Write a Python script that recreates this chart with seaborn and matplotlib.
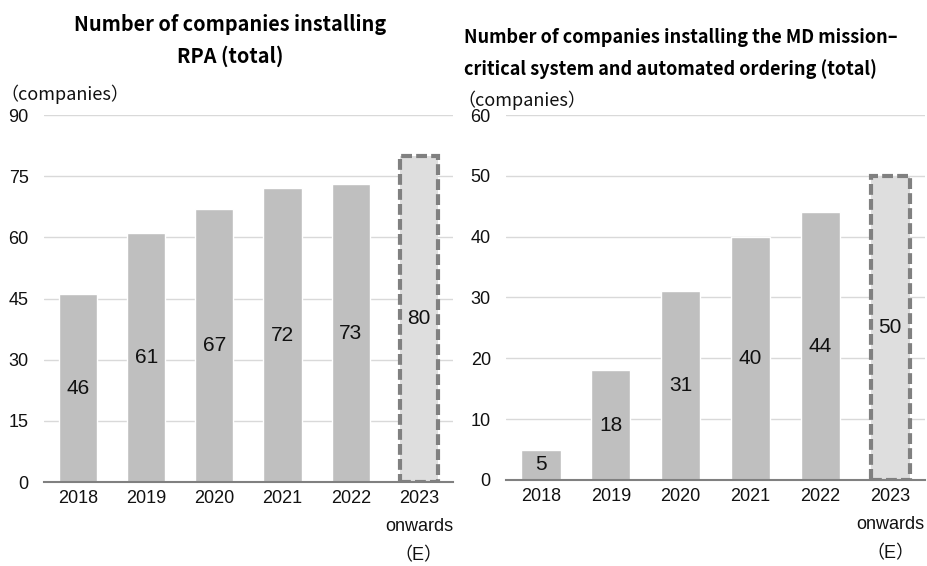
import matplotlib
matplotlib.use("Agg")
import matplotlib.pyplot as plt
import seaborn as sns

sns.set_theme(style="white")
plt.rcParams["font.family"] = ["Noto Sans CJK JP", "DejaVu Sans"]
NUM_FONT = ["Liberation Sans", "Noto Sans CJK JP"]

years = ["2018", "2019", "2020", "2021", "2022", "2023\nonwards\n（E）"]
rpa_values = [46, 61, 67, 72, 73, 80]
md_values = [5, 18, 31, 40, 44, 50]

rpa_title = "Number of companies installing\nRPA (total)"
md_title = "Number of companies installing the MD mission–\ncritical system and automated ordering (total)"
unit_label = "（companies）"

bar_color = "#bfbfbf"
forecast_color = "#dedede"
edge_color = "#808080"
text_color = "#111111"

fig = plt.figure(figsize=(9.28, 5.66), dpi=100)
ax1 = fig.add_axes([0.0474, 0.1484, 0.4407, 0.6484])
ax2 = fig.add_axes([0.5453, 0.1520, 0.4515, 0.6448])


def draw_panel(ax, values, ymax, step):
    colors = [bar_color] * (len(values) - 1) + [forecast_color]
    sns.barplot(x=years, y=values, hue=years, palette=colors, legend=False,
                width=0.56, ax=ax, saturation=1, zorder=2)
    last = ax.patches[len(values) - 1]
    last.set_edgecolor(edge_color)
    last.set_linestyle((0, (2.6, 1.0)))
    last.set_linewidth(3)
    for i, v in enumerate(values):
        ax.text(i, v / 2, str(v), ha="center", va="center", fontsize=15,
                family=NUM_FONT, color=text_color, zorder=3)
    ax.set_ylim(0, ymax)
    ax.set_xlim(-0.5, len(values) - 0.5)
    ax.set_yticks(range(0, ymax + 1, step))
    ax.yaxis.grid(True, color="#d9d9d9", linewidth=1, zorder=0)
    ax.set_axisbelow(True)
    for s in ["left", "right", "top"]:
        ax.spines[s].set_visible(False)
    ax.spines["bottom"].set_color(edge_color)
    ax.spines["bottom"].set_linewidth(1.5)
    ax.spines["bottom"].set_zorder(4)
    ax.tick_params(axis="y", length=0, pad=11, labelsize=13, labelcolor=text_color)
    ax.tick_params(axis="x", which="major", length=0, pad=6, labelsize=13,
                   labelcolor=text_color)
    ax.set_xticks([i - 0.5 for i in range(len(values) + 1)], minor=True)
    ax.tick_params(axis="x", which="minor", length=5, width=1.5, color=edge_color,
                   direction="out")
    for lbl in ax.get_xticklabels() + ax.get_yticklabels():
        lbl.set_family(NUM_FONT)
    for lbl in ax.get_xticklabels():
        lbl.set_linespacing(1.85)
        lbl.set_verticalalignment("top")
    ax.set_xlabel("")
    ax.set_ylabel("")


draw_panel(ax1, rpa_values, 90, 15)
draw_panel(ax2, md_values, 60, 10)

fig.text(0.248, 0.929, rpa_title, ha="center", va="center", fontsize=14.3,
         fontweight="bold", linespacing=1.6, color="#000000")
fig.text(0.4995, 0.9055, md_title, ha="left", va="center", fontsize=13,
         fontweight="bold", linespacing=1.75, color="#000000")
fig.text(0.0, 0.834, unit_label, ha="left", va="center", fontsize=13,
         color=text_color)
fig.text(0.493, 0.823, unit_label, ha="left", va="center", fontsize=13,
         color=text_color)

fig.savefig("out.png", dpi=100)
